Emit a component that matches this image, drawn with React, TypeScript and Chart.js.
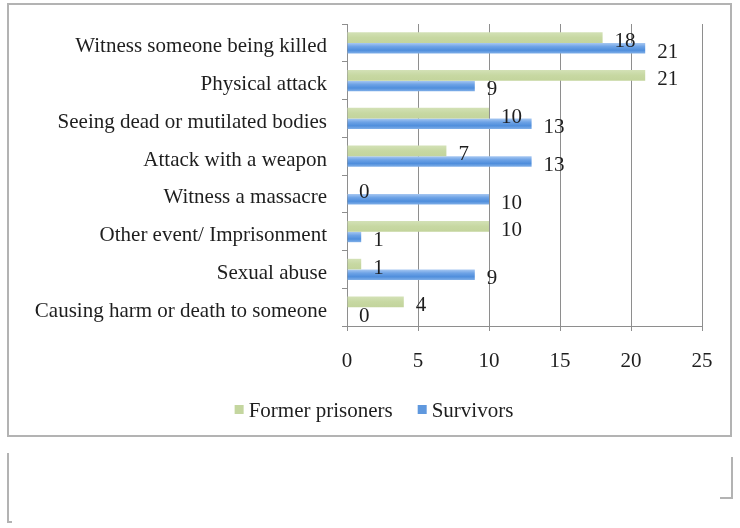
import React, { useEffect, useRef } from "react";
import { Chart, registerables } from "chart.js";

Chart.register(...registerables);

const categories = [
  "Witness someone being killed",
  "Physical attack",
  "Seeing dead or mutilated bodies",
  "Attack with a weapon",
  "Witness a massacre",
  "Other event/ Imprisonment",
  "Sexual abuse",
  "Causing harm or death to someone",
];
const formerPrisoners = [18, 21, 10, 7, 0, 10, 1, 4];
const survivors = [21, 9, 13, 13, 10, 1, 9, 0];
const seriesNames = ["Former prisoners", "Survivors"];
const xMin = 0;
const xMax = 25;
const xStep = 5;

const FONT = "'Liberation Serif', 'Times New Roman', serif";
const GRID = "#8e8e8e";
const TEXT = "#1e1e1e";

const gradientStops: Array<Array<[number, string]>> = [
  [
    [0, "#d3e1b6"],
    [0.5, "#c7d8a2"],
    [1, "#c3d49c"],
  ],
  [
    [0, "#a9c9f2"],
    [0.35, "#6ea3e6"],
    [0.7, "#4f8edc"],
    [1, "#80afe8"],
  ],
];
const legendColors = ["#c4d69f", "#5f98de"];

const barGradientPlugin = {
  id: "barGradient",
  beforeDatasetsDraw(chart: any) {
    const ctx = chart.ctx;
    chart.data.datasets.forEach((_ds: any, i: number) => {
      const meta = chart.getDatasetMeta(i);
      meta.data.forEach((el: any) => {
        const { y, height } = el.getProps(["y", "height"], true);
        const g = ctx.createLinearGradient(0, y - height / 2, 0, y + height / 2);
        gradientStops[i].forEach(([o, c]) => g.addColorStop(o, c));
        el.options = { ...el.options, backgroundColor: g };
      });
    });
  },
};

const valueLabelPlugin = {
  id: "valueLabels",
  afterDatasetsDraw(chart: any) {
    const ctx = chart.ctx;
    ctx.save();
    ctx.font = `21px ${FONT}`;
    ctx.fillStyle = TEXT;
    ctx.textAlign = "left";
    ctx.textBaseline = "middle";
    chart.data.datasets.forEach((ds: any, i: number) => {
      const meta = chart.getDatasetMeta(i);
      meta.data.forEach((el: any, j: number) => {
        const { x, y } = el.getProps(["x", "y"], true);
        ctx.fillText(String(ds.data[j]), x + 12, y + 4);
      });
    });
    ctx.restore();
  },
};

const legendPlugin = {
  id: "customLegend",
  afterDraw(chart: any) {
    const ctx = chart.ctx;
    ctx.save();
    ctx.font = `21px ${FONT}`;
    ctx.textBaseline = "middle";
    ctx.textAlign = "left";
    const box = 9;
    const gapText = 5;
    const gapItem = 25;
    const names = chart.data.datasets.map((d: any) => d.label);
    const widths = names.map((n: string) => ctx.measureText(n).width);
    const total =
      widths.reduce((a: number, w: number) => a + box + gapText + w, 0) +
      gapItem * (names.length - 1);
    let x = 374 - total / 2;
    const y = 410;
    names.forEach((n: string, i: number) => {
      ctx.fillStyle = legendColors[i];
      ctx.fillRect(x, y - 5, box, box);
      x += box + gapText;
      ctx.fillStyle = TEXT;
      ctx.fillText(n, x, y + 1);
      x += widths[i] + gapItem;
    });
    ctx.restore();
  },
};

export default function App() {
  const ref = useRef<HTMLCanvasElement>(null);

  useEffect(() => {
    if (!ref.current) return;
    const chart = new Chart(ref.current, {
      type: "bar",
      data: {
        labels: categories,
        datasets: [
          {
            label: seriesNames[0],
            data: formerPrisoners,
            backgroundColor: legendColors[0],
            borderWidth: 0,
            categoryPercentage: 0.56,
            barPercentage: 1,
          },
          {
            label: seriesNames[1],
            data: survivors,
            backgroundColor: legendColors[1],
            borderWidth: 0,
            categoryPercentage: 0.56,
            barPercentage: 1,
          },
        ],
      },
      options: {
        indexAxis: "y",
        animation: false,
        responsive: false,
        maintainAspectRatio: false,
        layout: { padding: { top: 24, right: 38, left: 0, bottom: 0 } },
        plugins: {
          legend: { display: false },
          tooltip: { enabled: false },
        },
        scales: {
          x: {
            min: xMin,
            max: xMax,
            ticks: {
              stepSize: xStep,
              color: TEXT,
              font: { family: FONT, size: 21 },
              padding: 18,
            },
            grid: {
              color: GRID,
              lineWidth: 1,
              tickLength: 5,
              drawTicks: true,
            },
            border: { color: GRID, width: 1 },
            afterFit: (scale: any) => {
              scale.height = 202;
            },
          },
          y: {
            ticks: {
              color: TEXT,
              font: { family: FONT, size: 21 },
              padding: 15,
              labelOffset: 4,
            },
            grid: {
              drawOnChartArea: false,
              color: GRID,
              tickLength: 5,
              offset: true,
            },
            border: { color: GRID, width: 1 },
            afterFit: (scale: any) => {
              scale.width = 347;
              scale.paddingTop = 0;
              scale.paddingBottom = 0;
            },
          },
        },
      },
      plugins: [barGradientPlugin, valueLabelPlugin, legendPlugin],
    } as any);
    return () => chart.destroy();
  }, []);

  const line = "#b3b3b3";
  return (
    <div
      style={{
        position: "fixed",
        left: 0,
        top: 0,
        width: 740,
        height: 528,
        background: "#fff",
        overflow: "hidden",
      }}
    >
      <div
        style={{
          position: "absolute",
          left: 7,
          top: 3,
          width: 725,
          height: 434,
          border: `2px solid ${line}`,
          boxSizing: "border-box",
        }}
      />
      <div style={{ position: "absolute", left: 7, top: 453, width: 2, height: 70, background: line }} />
      <div style={{ position: "absolute", left: 7, top: 521, width: 5, height: 2, background: line }} />
      <div style={{ position: "absolute", left: 731, top: 457, width: 2, height: 42, background: line }} />
      <div style={{ position: "absolute", left: 720, top: 497, width: 13, height: 2, background: line }} />
      <canvas
        ref={ref}
        width={740}
        height={528}
        style={{ position: "absolute", left: 0, top: 0, width: 740, height: 528 }}
      />
    </div>
  );
}
